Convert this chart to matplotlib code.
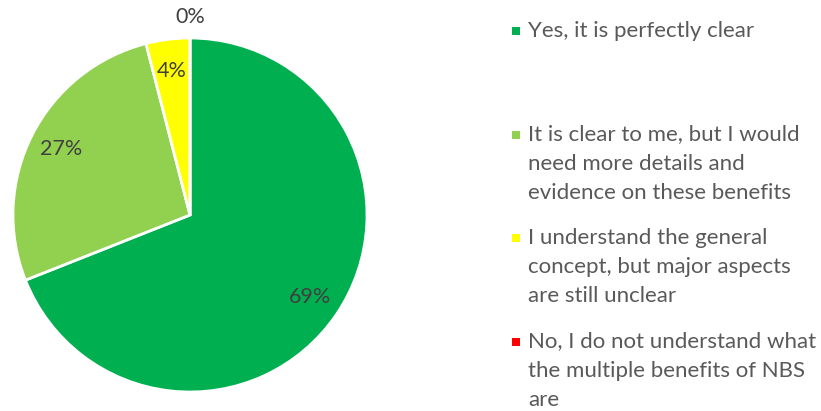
import numpy as np
import matplotlib
matplotlib.use("Agg")
import matplotlib.pyplot as plt
from matplotlib.patches import Rectangle

# ==========================================
# Data
# ==========================================

labels = [
    "Yes, it is perfectly clear",
    "It is clear to me, but I would\nneed more details and\nevidence on these benefits",
    "I understand the general\nconcept, but major aspects\nare still unclear",
    "No, I do not understand what\nthe multiple benefits of NBS\nare",
]
values = [69, 27, 4, 0]
colors = ["#00B050", "#92D050", "#FFFF00", "#FF0000"]

plt.rcParams["font.family"] = ["Lato", "DejaVu Sans"]

W, H = 821, 411
fig = plt.figure(figsize=(W / 100, H / 100), dpi=100)

# pie axes, placed in pixels
cx, cy, r = 190, 215, 177
ax = fig.add_axes([(cx - r) / W, (H - cy - r) / H, 2 * r / W, 2 * r / H])

ax.pie(
    values,
    colors=colors,
    startangle=90,
    counterclock=False,
    radius=1,
    wedgeprops=dict(edgecolor="white", linewidth=2),
)
ax.set_xlim(-1, 1)
ax.set_ylim(-1, 1)
ax.set_aspect("equal")
ax.axis("off")

# percentage labels
total = sum(values)
cum = 0
for v in values:
    mid = cum + v / 2
    ang = np.deg2rad(90 - 360 * mid / total)
    dist = 0.82 if v > 0 else 1.12
    ax.text(dist * np.cos(ang), dist * np.sin(ang), f"{v}%",
            ha="center", va="center", fontsize=15.5, color="#404040",
            clip_on=False)
    cum += v

# legend, drawn by hand in pixel coordinates
lax = fig.add_axes([0, 0, 1, 1])
lax.set_xlim(0, W)
lax.set_ylim(H, 0)
lax.axis("off")

slot_top = 31
slot_step = 103.5
line_step = 29
for i, (lab, col) in enumerate(zip(labels, colors)):
    y0 = slot_top + i * slot_step
    lax.add_patch(Rectangle((512, y0 - 4), 8, 8, facecolor=col, edgecolor="none"))
    for j, line in enumerate(lab.split("\n")):
        lax.text(528, y0 + j * line_step, line, ha="left", va="center",
                 fontsize=16, color="#595959")

fig.savefig("out.png", dpi=100)
